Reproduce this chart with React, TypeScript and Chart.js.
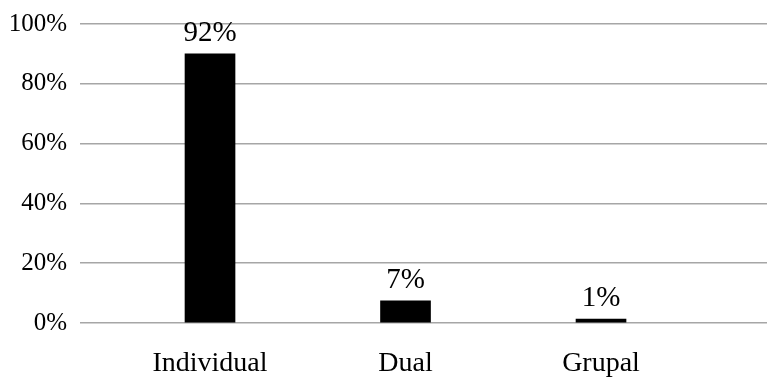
import React, { useEffect, useRef } from "react";
import { Chart, registerables } from "chart.js";

Chart.register(...registerables);

const categories = ["Individual", "Dual", "Grupal"];
const barValues = [90, 7.4, 1.3];
const valueLabels = ["92%", "7%", "1%"];
const yTicks = [0, 20, 40, 60, 80, 100];

const FONT = "'Liberation Serif', 'Times New Roman', serif";

const labelPlugin = {
  id: "valueLabels",
  afterDatasetsDraw(chart: any) {
    const ctx = chart.ctx;
    const meta = chart.getDatasetMeta(0);
    ctx.save();
    ctx.fillStyle = "#000";
    ctx.font = `29px ${FONT}`;
    ctx.textAlign = "center";
    ctx.textBaseline = "alphabetic";
    meta.data.forEach((bar: any, i: number) => {
      ctx.fillText(valueLabels[i], bar.x, bar.y - 13);
    });
    ctx.restore();
  },
};

export default function App() {
  const ref = useRef<HTMLCanvasElement>(null);
  useEffect(() => {
    if (!ref.current) return;
    const chart = new Chart(ref.current, {
      type: "bar",
      data: {
        datasets: [
          {
            data: barValues.map((v, i) => ({ x: i, y: v })),
            backgroundColor: "#000",
            borderWidth: 0,
            barThickness: 50,
          },
        ],
      },
      options: {
        responsive: false,
        animation: false,
        layout: { padding: { top: 24, left: 0, right: 0, bottom: 0 } },
        plugins: { legend: { display: false }, tooltip: { enabled: false } },
        scales: {
          x: {
            type: "linear",
            min: -0.665,
            max: 2.849,
            offset: false,
            grid: { display: false, offset: false },
            border: { display: false },
            afterBuildTicks: (scale: any) => {
              scale.ticks = categories.map((_, i) => ({ value: i }));
            },
            afterFit: (scale: any) => {
              scale.height = 57;
              scale.paddingLeft = 0;
              scale.paddingRight = 0;
            },
            ticks: {
              color: "#000",
              font: { family: FONT, size: 28 },
              padding: 16,
              maxRotation: 0,
              autoSkip: false,
              callback: (v: any) => categories[v] ?? "",
            },
          },
          y: {
            min: 0,
            max: 100,
            afterBuildTicks: (scale: any) => {
              scale.ticks = yTicks.map((v) => ({ value: v }));
            },
            afterFit: (scale: any) => {
              scale.width = 80;
              scale.paddingTop = 0;
              scale.paddingBottom = 0;
            },
            grid: { color: "#a6a6a6", lineWidth: 1.5, drawTicks: false },
            border: { display: false },
            ticks: {
              color: "#000",
              font: { family: FONT, size: 25 },
              padding: 13,
              callback: (v: any) => `${v}%`,
            },
          },
        },
      },
      plugins: [labelPlugin],
    });
    return () => chart.destroy();
  }, []);
  return (
    <div style={{ position: "fixed", left: 0, top: 0, width: 767, height: 380, background: "#fff" }}>
      <canvas ref={ref} width={767} height={380} />
    </div>
  );
}
